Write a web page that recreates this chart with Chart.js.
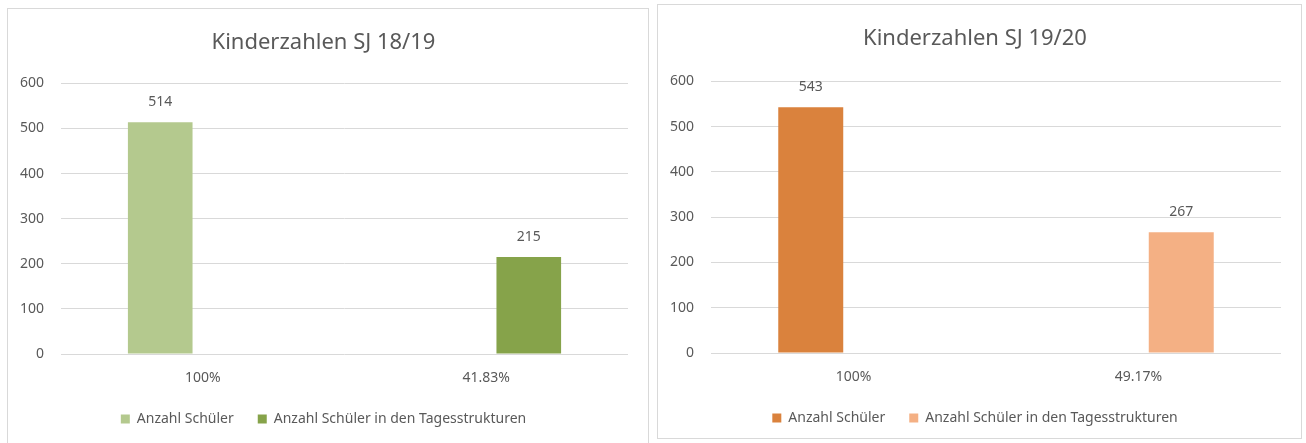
<!DOCTYPE html>
<html>
<head>
<meta charset="utf-8">
<script src="https://cdn.jsdelivr.net/npm/chart.js@4.4.0/dist/chart.umd.min.js"></script>
<style>
  body { margin: 0; background: #fff; width: 1306px; height: 443px; overflow: hidden; position: relative; }
  .box { position: absolute; border: 1px solid #d9d9d9; background: #fff; }
  #box1 { left: 7px; top: 8px; width: 640px; height: 445px; }
  #box2 { left: 657px; top: 4px; width: 643px; height: 433px; }
  canvas { display: block; }
</style>
</head>
<body>
<div class="box" id="box1"><canvas id="chart1"></canvas></div>
<div class="box" id="box2"><canvas id="chart2"></canvas></div>
<script>
// Kinderzahlen SJ 18/19
const labels1 = ['100%', '41.83%'];
const schueler1 = [514, null];
const tages1 = [null, 215];

// Kinderzahlen SJ 19/20
const labels2 = ['100%', '49.17%'];
const schueler2 = [543, null];
const tages2 = [null, 267];

const seriesNames = ['Anzahl Schüler', 'Anzahl Schüler in den Tagesstrukturen'];
const yTicks = [0, 100, 200, 300, 400, 500, 600];

const fontFamily = "'Noto Sans', 'Open Sans', sans-serif";
const grey = '#595959';

// draws the value above each bar
const valueLabels = {
  id: 'valueLabels',
  afterDatasetsDraw(chart) {
    const ctx = chart.ctx;
    ctx.save();
    ctx.font = '14px ' + fontFamily;
    ctx.fillStyle = grey;
    ctx.textAlign = 'center';
    ctx.textBaseline = 'middle';
    chart.data.datasets.forEach((ds, i) => {
      chart.getDatasetMeta(i).data.forEach((bar, j) => {
        if (ds.data[j] == null) return;
        ctx.fillText(ds.data[j], bar.x, bar.y - 20);
      });
    });
    ctx.restore();
  }
};

function makeChart(id, title, labels, a, b, colors, h, titleGap) {
  const canvas = document.getElementById(id);
  canvas.width = canvas.parentNode.clientWidth;
  canvas.height = h;
  return new Chart(canvas, {
    type: 'bar',
    data: {
      labels: labels,
      datasets: [
        { label: seriesNames[0], data: a, backgroundColor: colors[0] },
        { label: seriesNames[1], data: b, backgroundColor: colors[1] }
      ]
    },
    options: {
      responsive: false,
      animation: false,
      categoryPercentage: 0.6,
      barPercentage: 0.76,
      layout: { padding: { left: 11, right: 20, top: 0, bottom: 3 } },
      plugins: {
        title: {
          display: true,
          text: title,
          color: grey,
          font: { family: fontFamily, size: 22, weight: 'normal' },
          padding: { top: 21, bottom: titleGap }
        },
        legend: {
          position: 'bottom',
          labels: {
            color: grey,
            font: { family: fontFamily, size: 14 },
            boxWidth: 9,
            boxHeight: 9,
            padding: 24
          }
        },
        tooltip: { enabled: false }
      },
      scales: {
        x: {
          grid: { display: false, drawTicks: false },
          border: { display: false },
          ticks: { color: grey, font: { family: fontFamily, size: 14 }, padding: 16 },
          afterFit: axis => { axis.height = 34; }
        },
        y: {
          min: yTicks[0],
          max: yTicks[yTicks.length - 1],
          afterBuildTicks: axis => { axis.ticks = yTicks.map(v => ({ value: v })); },
          grid: { color: '#d9d9d9', drawTicks: false },
          border: { display: false },
          ticks: { color: grey, font: { family: fontFamily, size: 14 }, padding: 17 },
          afterFit: axis => { axis.width = 42; }
        }
      }
    },
    plugins: [valueLabels]
  });
}

makeChart('chart1', 'Kinderzahlen SJ 18/19', labels1, schueler1, tages1, ['#b4c98e', '#86a34a'], 430, 27);
makeChart('chart2', 'Kinderzahlen SJ 19/20', labels2, schueler2, tages2, ['#da823d', '#f4b084'], 433, 29);
</script>
</body>
</html>
